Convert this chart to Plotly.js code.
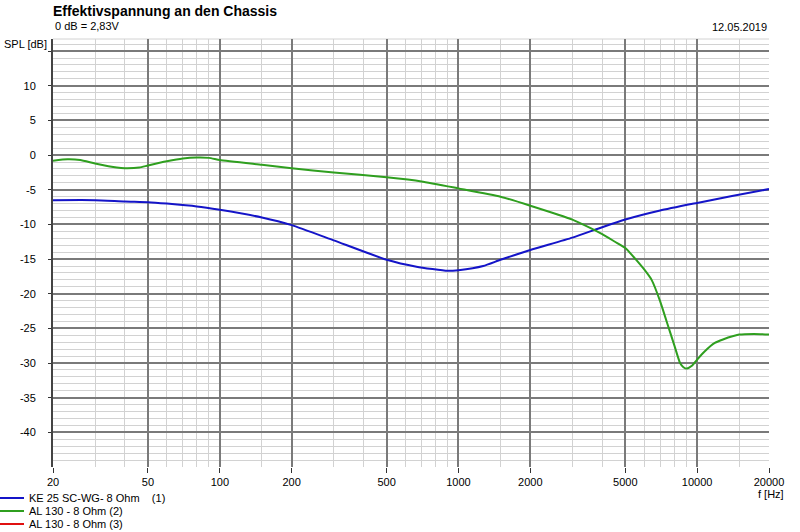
<!DOCTYPE html>
<html>
<head>
<meta charset="utf-8">
<script src="https://cdn.plot.ly/plotly-3.0.1.min.js"></script>
<style>html,body{margin:0;padding:0;background:#fff;}#chart{width:800px;height:532px;}</style>
</head>
<body>
<div id="chart"></div>
<script>
// ---- data ----
const seriesNames = ["KE 25 SC-WG- 8 Ohm\u00a0\u00a0\u00a0\u00a0(1)", "AL 130 - 8 Ohm (2)", "AL 130 - 8 Ohm (3)"];
const seriesColors = ["#1414c8", "#2f9f1f", "#e01010"];

const keFreq = [20, 30, 40, 50, 60, 80, 100, 150, 200, 300, 500, 667, 900, 1000, 1270, 1500, 2000, 3000, 4000, 5000, 7000, 10000, 14000, 20000];
const keDb   = [-6.5, -6.5, -6.7, -6.8, -7.0, -7.4, -7.9, -9.0, -10.1, -12.3, -15.1, -16.1, -16.7, -16.6, -16.0, -15.1, -13.7, -11.9, -10.4, -9.3, -8.0, -6.9, -5.9, -4.9];

const al2Freq = [20, 23, 26, 30, 37, 40, 46, 50, 60, 70, 80, 90, 100, 150, 200, 300, 500, 700, 1000, 1500, 2000, 3000, 3560, 4000, 4524, 5000, 5485, 6000, 6444, 7000, 7450, 8000, 8480, 8760, 9060, 9500, 10000, 10770, 11860, 12830, 15000, 17300, 20000];
const al2Db   = [-0.8, -0.6, -0.7, -1.2, -1.8, -1.9, -1.8, -1.5, -0.9, -0.5, -0.35, -0.4, -0.7, -1.4, -1.9, -2.5, -3.2, -3.8, -4.8, -6.0, -7.3, -9.3, -10.5, -11.4, -12.5, -13.4, -14.9, -16.5, -18.0, -21.1, -24.0, -27.3, -30.0, -30.6, -30.8, -30.4, -29.5, -28.3, -27.1, -26.6, -25.9, -25.8, -25.9];

const al3Freq = [20];
const al3Db   = [null];

const xMajorTicks = [20, 50, 100, 200, 500, 1000, 2000, 5000, 10000, 20000];
const xMinorTicks = [30, 40, 60, 70, 80, 90, 150, 300, 400, 600, 700, 800, 900, 1500, 3000, 4000, 6000, 7000, 8000, 9000, 15000];
const yMajorTicks = [-40, -35, -30, -25, -20, -15, -10, -5, 0, 5, 10, 15];
const yTickText   = ["-40", "-35", "-30", "-25", "-20", "-15", "-10", "-5", "0", "5", "10", ""];

// ---- layout helpers ----
const W = 800, H = 532;
const L = 53, R = 769, T = 39, B = 467;
const px = x => (x - L) / (R - L);
const py = y => (B - y) / (B - T);

const yMinor = [];
for (let v = -45; v <= 16; v++) { if (v % 5 !== 0) yMinor.push(v); }

const FONT = "Liberation Sans, Arial, sans-serif";
const MAJ = "#7a7a7a", MIN = "#d2d2d2";

const traces = [
  {x: keFreq, y: keDb, name: seriesNames[0], type: "scatter", mode: "lines",
   line: {color: seriesColors[0], width: 2, shape: "spline", smoothing: 0.5}, legend: "legend"},
  {x: al2Freq, y: al2Db, name: seriesNames[1], type: "scatter", mode: "lines",
   line: {color: seriesColors[1], width: 2, shape: "spline", smoothing: 0.5}, legend: "legend2"},
  {x: al3Freq, y: al3Db, name: seriesNames[2], type: "scatter", mode: "lines",
   line: {color: seriesColors[2], width: 2}, legend: "legend3"}
];

const legBase = {xanchor: "left", yanchor: "middle", bgcolor: "rgba(0,0,0,0)", borderwidth: 0,
  font: {family: FONT, size: 11, color: "#000"}, itemwidth: 30, tracegroupgap: 0};

const layout = {
  width: W, height: H,
  margin: {l: L, r: W - R, t: T, b: H - B, pad: 0, autoexpand: false},
  paper_bgcolor: "#fff", plot_bgcolor: "#fff",
  font: {family: FONT, size: 11, color: "#000"},
  title: {text: "<b>Effektivspannung an den Chassis</b>", font: {family: FONT, size: 14, color: "#000"},
          x: L / W, xanchor: "left", xref: "container", y: 1 - 11 / H, yanchor: "middle", yref: "container"},
  xaxis: {
    type: "log", range: [Math.log10(20), Math.log10(20000)],
    tickmode: "array", tickvals: xMajorTicks, ticktext: xMajorTicks.map(String),
    showgrid: true, gridcolor: MAJ, gridwidth: 2,
    ticks: "outside", ticklen: 5, tickcolor: "#333", tickwidth: 1,
    showline: false, zeroline: false,
    tickfont: {family: FONT, size: 11, color: "#000"},
    minor: {tickmode: "array", tickvals: xMinorTicks, showgrid: true, gridcolor: MIN, gridwidth: 1, ticks: ""}
  },
  yaxis: {
    range: [-45, 16.75],
    tickmode: "array", tickvals: yMajorTicks, ticktext: yTickText,
    showgrid: true, gridcolor: MAJ, gridwidth: 2,
    ticks: "outside", ticklen: 3, tickcolor: "#333", tickwidth: 1,
    showline: true, linecolor: "#444", linewidth: 2, zeroline: false,
    ticklabelstandoff: 10,
    tickfont: {family: FONT, size: 11, color: "#000"},
    minor: {tickmode: "array", tickvals: yMinor, showgrid: true, gridcolor: MIN, gridwidth: 1, ticks: ""}
  },
  showlegend: true,
  legend: Object.assign({}, legBase, {x: px(-11), y: py(498)}),
  legend2: Object.assign({}, legBase, {x: px(-11), y: py(511)}),
  legend3: Object.assign({}, legBase, {x: px(-11), y: py(524)}),
  shapes: [
    {type: "line", xref: "paper", yref: "paper", x0: 0, x1: 1, y0: 1, y1: 1, line: {color: MIN, width: 1}, layer: "below"}
  ],
  annotations: [
    {text: "0 dB = 2,83V", xref: "paper", yref: "paper", x: 0, y: py(26), xanchor: "left", yanchor: "middle", showarrow: false, font: {family: FONT, size: 11, color: "#000"}},
    {text: "12.05.2019", xref: "paper", yref: "paper", x: 1, y: py(27), xanchor: "right", yanchor: "middle", showarrow: false, font: {family: FONT, size: 11, color: "#000"}},
    {text: "SPL [dB]", xref: "paper", yref: "paper", x: px(49), y: py(44), xanchor: "right", yanchor: "middle", showarrow: false, font: {family: FONT, size: 11, color: "#000"}},
    {text: "f [Hz]", xref: "paper", yref: "paper", x: px(771), y: py(494), xanchor: "center", yanchor: "middle", showarrow: false, font: {family: FONT, size: 11, color: "#000"}}
  ]
};

Plotly.newPlot("chart", traces, layout, {displayModeBar: false, staticPlot: true});
</script>
</body>
</html>
